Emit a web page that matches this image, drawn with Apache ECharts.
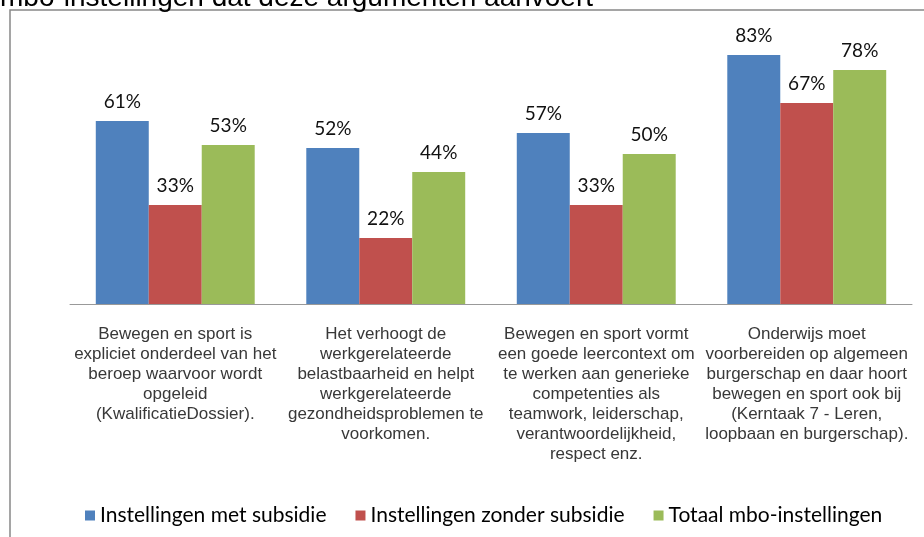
<!DOCTYPE html>
<html><head><meta charset="utf-8">
<script src="https://cdn.jsdelivr.net/npm/echarts@6/dist/echarts.min.js"></script>
<style>html,body{margin:0;padding:0;background:#fff}#c{width:924px;height:537px}</style>
</head><body><div id="c"></div>
<script>
const categories = [
  "Bewegen en sport is\nexpliciet onderdeel van het\nberoep waarvoor wordt\nopgeleid\n(KwalificatieDossier).",
  "Het verhoogt de\nwerkgerelateerde\nbelastbaarheid en helpt\nwerkgerelateerde\ngezondheidsproblemen te\nvoorkomen.",
  "Bewegen en sport vormt\neen goede leercontext om\nte werken aan generieke\ncompetenties als\nteamwork, leiderschap,\nverantwoordelijkheid,\nrespect enz.",
  "Onderwijs moet\nvoorbereiden op algemeen\nburgerschap en daar hoort\nbewegen en sport ook bij\n(Kerntaak 7 - Leren,\nloopbaan en burgerschap)."
];
const seriesNames = ["Instellingen met subsidie", "Instellingen zonder subsidie", "Totaal mbo-instellingen"];
const metSubsidie = [61, 52, 57, 83];
const zonderSubsidie = [33, 22, 33, 67];
const totaal = [53, 44, 50, 78];
const titleFragment = "mbo-instellingen dat deze argumenten aanvoert";

const colors = ["#4F81BD", "#C0504D", "#9BBB59"];
const valuesList = [metSubsidie, zonderSubsidie, totaal];

const chart = echarts.init(document.getElementById('c'), null, {renderer: 'canvas'});
chart.setOption({
  animation: false,
  color: colors,
  graphic: [
    {type: 'rect', shape: {x: 10, y: 10, width: 1000, height: 1000}, style: {fill: 'none', stroke: '#888', lineWidth: 1.5}, silent: true},
    {type: 'text', x: 0, y: -2, style: {text: titleFragment, font: '28px "Liberation Sans", Arial', fill: '#000', verticalAlign: 'middle'}, silent: true}
  ],
  grid: {left: 70, right: 12, top: 34, bottom: 233},
  legend: {
    left: 80, top: 500,
    icon: 'rect', itemWidth: 10, itemHeight: 10, itemGap: 29,
    textStyle: {fontFamily: 'Lato', fontSize: 21, color: '#000'},
    data: seriesNames
  },
  xAxis: {
    type: 'category', data: categories,
    axisLine: {lineStyle: {color: '#999', width: 1}},
    axisTick: {show: false},
    axisLabel: {interval: 0, margin: 20, fontFamily: '"Liberation Sans", Arial', fontSize: 17, lineHeight: 20, color: '#383838', align: 'center'}
  },
  yAxis: {type: 'value', min: 0, max: 90, show: false, splitLine: {show: false}},
  series: seriesNames.map((n, i) => ({
    name: n, type: 'bar', data: valuesList[i],
    barGap: '0%', barCategoryGap: '24.5%',
    label: {show: true, position: 'top', distance: 10, formatter: '{c}%', fontFamily: 'Lato', fontSize: 19, color: '#111'}
  }))
});
</script></body></html>
